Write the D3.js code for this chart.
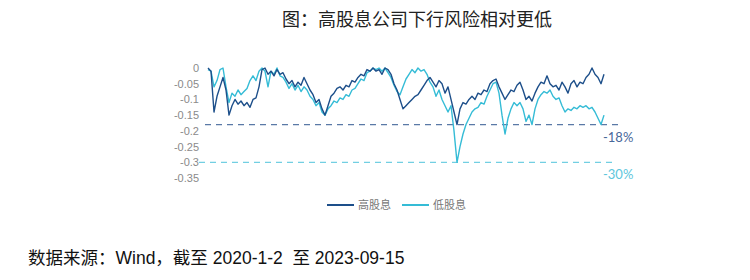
<!DOCTYPE html>
<html>
<head>
<meta charset="utf-8">
<script src="https://cdn.jsdelivr.net/npm/d3@7"></script>
<style>
  body { margin: 0; background: #fff; }
  svg { display: block; }
</style>
</head>
<body>
<svg id="chart" width="750" height="280"></svg>
<script>
const highDiv = [
  0, -0.01, -0.14, -0.09, -0.06, -0.03, -0.07, -0.15, -0.12, -0.10,
  -0.115, -0.105, -0.12, -0.11, -0.125, -0.10, -0.095, -0.06, -0.005, 0,
  -0.02, -0.01, -0.025, -0.005, -0.02, -0.015, -0.035, -0.05, -0.04, -0.06,
  -0.045, -0.055, -0.03, -0.05, -0.07, -0.085, -0.11, -0.10, -0.13, -0.15,
  -0.12, -0.09, -0.08, -0.065, -0.06, -0.07, -0.055, -0.06, -0.04, -0.045,
  -0.03, -0.02, -0.025, -0.005, -0.01, 0, -0.01, -0.005, -0.02, 0,
  -0.005, -0.02, -0.05, -0.07, -0.10, -0.13, -0.12, -0.11, -0.10, -0.09,
  -0.085, -0.07, -0.055, -0.04, -0.03, -0.045, -0.06, -0.04, -0.05, -0.08,
  -0.06, -0.10, -0.14, -0.18, -0.13, -0.11, -0.115, -0.10, -0.09, -0.10,
  -0.08, -0.085, -0.07, -0.075, -0.05, -0.04, -0.035, -0.06, -0.08, -0.10,
  -0.085, -0.07, -0.075, -0.055, -0.045, -0.07, -0.10, -0.09, -0.105, -0.08,
  -0.06, -0.045, -0.05, -0.025, -0.05, -0.06, -0.055, -0.07, -0.045, -0.06,
  -0.08, -0.05, -0.04, -0.06, -0.045, -0.05, -0.03, -0.02, 0, -0.02,
  -0.03, -0.05, -0.02
];
const lowDiv = [
  -0.005, -0.01, -0.06, -0.04, -0.005, 0, -0.06, -0.11, -0.08, -0.09,
  -0.07, -0.085, -0.075, -0.065, -0.04, -0.025, -0.04, -0.01, 0, -0.01,
  -0.06, -0.01, -0.02, 0, -0.025, -0.03, -0.045, -0.065, -0.05, -0.07,
  -0.055, -0.075, -0.06, -0.07, -0.09, -0.10, -0.12, -0.11, -0.14, -0.15,
  -0.13, -0.12, -0.105, -0.11, -0.095, -0.10, -0.085, -0.09, -0.07, -0.065,
  -0.05, -0.035, -0.04, -0.015, -0.01, 0, -0.005, 0, -0.01, 0,
  -0.015, -0.03, -0.055, -0.075, -0.085, -0.06, -0.035, -0.02, -0.005, -0.015,
  0, -0.01, -0.005, -0.02, -0.045, -0.06, -0.09, -0.07, -0.10, -0.12,
  -0.14, -0.12, -0.20, -0.30, -0.25, -0.21, -0.18, -0.16, -0.14, -0.13,
  -0.125, -0.11, -0.115, -0.09, -0.07, -0.05, -0.045, -0.08, -0.15, -0.21,
  -0.16, -0.13, -0.11, -0.12, -0.11, -0.13, -0.17, -0.15, -0.18, -0.13,
  -0.10, -0.085, -0.075, -0.08, -0.07, -0.09, -0.10, -0.095, -0.12, -0.14,
  -0.13, -0.135, -0.125, -0.13, -0.12, -0.125, -0.12, -0.13, -0.125, -0.14,
  -0.16, -0.18, -0.15
];
const seriesNames = ["高股息", "低股息"];
const tickValues = [0, -0.05, -0.1, -0.15, -0.2, -0.25, -0.3, -0.35];
const tickLabels = ["0", "-0.05", "-0.1", "-0.15", "-0.2", "-0.25", "-0.3", "-0.35"];
const floorValues = [-0.18, -0.30];
const floorLabels = ["-18%", "-30%"];

const darkBlue = "#1d4f8a";
const lightBlue = "#35bcd6";
const colors = [darkBlue, lightBlue];
const dashColors = ["#5a79a6", "#72cfe2"];
const floorTextColors = ["#48689a", "#5ec6dc"];

const svg = d3.select("#chart");

const x = d3.scaleLinear().domain([0, highDiv.length - 1]).range([208, 604]);
const y = d3.scaleLinear().domain([-0.35, 0]).range([178, 68]);

// title
svg.append("text")
  .attr("x", 417).attr("y", 26)
  .attr("text-anchor", "middle")
  .style("font-family", "'Noto Sans CJK SC', sans-serif")
  .style("font-size", "18px")
  .style("fill", "#222")
  .text("图：高股息公司下行风险相对更低");

// y axis (labels only)
const yAxis = d3.axisLeft(y)
  .tickValues(tickValues)
  .tickFormat((d, i) => tickLabels[i])
  .tickSize(0)
  .tickPadding(0);

svg.append("g")
  .attr("transform", "translate(199,0)")
  .call(yAxis)
  .call(g => g.select(".domain").remove())
  .selectAll("text")
  .style("font-family", "'Liberation Sans', Arial, sans-serif")
  .style("font-size", "11px")
  .style("fill", "#8a8a8a");

// dashed floors
floorValues.forEach((v, i) => {
  svg.append("line")
    .attr("x1", i === 0 ? 205 : 199).attr("x2", i === 0 ? 618 : 615)
    .attr("y1", y(v)).attr("y2", y(v))
    .attr("stroke", dashColors[i])
    .attr("stroke-width", 1.3)
    .attr("stroke-dasharray", "6,5");
  svg.append("text")
    .attr("x", 603).attr("y", y(v) + 17)
    .style("font-family", "'Lato', 'Noto Sans', sans-serif")
    .style("font-size", "13px")
    .style("fill", floorTextColors[i])
    .text(floorLabels[i]);
});

const line = d3.line()
  .x((d, i) => x(i))
  .y(d => y(d));

[lowDiv, highDiv].forEach((data, k) => {
  svg.append("path")
    .datum(data)
    .attr("fill", "none")
    .attr("stroke", k === 0 ? lightBlue : darkBlue)
    .attr("stroke-width", 1.4)
    .attr("stroke-linejoin", "round")
    .attr("d", line);
});

// legend
const legend = svg.append("g").attr("transform", "translate(327,205)");
seriesNames.forEach((name, i) => {
  const g = legend.append("g").attr("transform", `translate(${i * 75},0)`);
  g.append("line")
    .attr("x1", 0).attr("x2", 27)
    .attr("stroke", colors[i]).attr("stroke-width", 2);
  g.append("text")
    .attr("x", 31).attr("y", 4)
    .style("font-family", "'Noto Sans CJK SC', sans-serif")
    .style("font-size", "11px")
    .style("fill", "#777")
    .text(name);
});

// source
svg.append("text")
  .attr("x", 28).attr("y", 264)
  .attr("xml:space", "preserve")
  .style("font-family", "'Liberation Sans', 'Noto Sans CJK SC', sans-serif")
  .style("font-size", "17.5px")
  .style("fill", "#111")
  .text("数据来源：Wind，截至 2020-1-2\u00a0 至 2023-09-15");
</script>
</body>
</html>
